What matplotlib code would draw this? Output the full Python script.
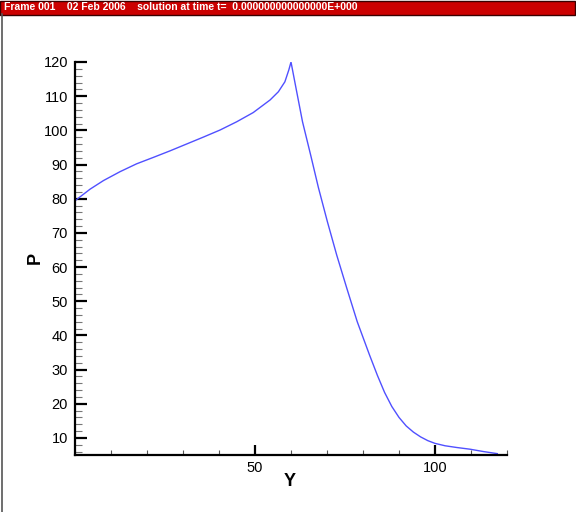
import matplotlib
matplotlib.use("Agg")
import matplotlib.pyplot as plt
from matplotlib.patches import Rectangle
from matplotlib.lines import Line2D
from matplotlib.ticker import MultipleLocator

# data
y_vals = [0.0, 4.2, 7.9, 12.5, 17.1, 21.8, 26.4, 31.0, 35.6, 40.3, 44.9, 49.5, 54.2, 56.5,
          58.3, 59.4, 60.0,
          61.4, 63.2, 65.5, 67.6, 70.1, 72.7, 75.5, 78.4, 81.8, 84.0, 86.0, 88.0, 90.0, 92.0,
          94.0, 96.0, 98.0, 100.0, 102.8, 106.0, 109.7, 113.5, 117.3]
p_vals = [79.4, 82.8, 85.3, 87.9, 90.2, 92.1, 94.0, 96.0, 98.0, 100.1, 102.5, 105.2, 108.9, 111.3,
          114.2, 117.7, 120.0,
          112.3, 102.5, 92.6, 83.3, 73.3, 63.5, 53.8, 44.0, 34.3, 28.3, 23.3, 19.2, 16.0, 13.5,
          11.7, 10.3, 9.2, 8.4, 7.7, 7.2, 6.7, 6.0, 5.4]
x_major = [50, 100]
y_major = list(range(10, 121, 10))
banner_text = "Frame 001    02 Feb 2006    solution at time t=  0.000000000000000E+000"

plt.rcParams['font.family'] = ['Liberation Sans', 'DejaVu Sans']

W, H = 576, 512
fig = plt.figure(figsize=(W / 100, H / 100), dpi=100)
ax = fig.add_axes([75 / W, (H - 455) / H, (507 - 75) / W, (455 - 62) / H])

ax.plot(y_vals, p_vals, color='#5050ff', lw=1.0)
ax.set_xlim(0, 120)
ax.set_ylim(5, 120)

for s in ['top', 'right']:
    ax.spines[s].set_visible(False)
for s in ['left', 'bottom']:
    ax.spines[s].set_linewidth(1.6)

ax.set_xticks(x_major)
ax.set_yticks(y_major)
ax.xaxis.set_minor_locator(MultipleLocator(10))
ax.yaxis.set_minor_locator(MultipleLocator(2))
ax.tick_params(axis='y', which='major', direction='in', length=8.6, width=1.6, labelsize=10.5, pad=5)
ax.tick_params(axis='y', which='minor', direction='in', length=5, width=0.8, color='#777777')
ax.tick_params(axis='x', which='major', direction='in', length=7.2, width=1.6, labelsize=10.5, pad=4)
ax.tick_params(axis='x', which='minor', direction='in', length=3.6, width=0.8, color='#555555')

fig.text(35 / W, 1 - 258 / H, 'P', rotation=90, ha='center', va='center',
         fontsize=13, fontweight='bold')
fig.text(290 / W, 1 - 482 / H, 'Y', ha='center', va='center',
         fontsize=13, fontweight='bold')

# banner
fig.patches.append(Rectangle((0, 1 - 14.5 / H), 575 / W, 14 / H, transform=fig.transFigure,
                             facecolor='#cc0000', edgecolor='#3a0000', lw=1.0))
fig.text(4 / W, 1 - 7.5 / H, banner_text, color='white', fontsize=7.5, fontweight='bold',
         ha='left', va='center')
fig.lines.append(Line2D([1.5 / W, 1.5 / W], [0, 1 - 14 / H], transform=fig.transFigure,
                        color='#555555', lw=1.2))

fig.savefig('out.png', dpi=100)
